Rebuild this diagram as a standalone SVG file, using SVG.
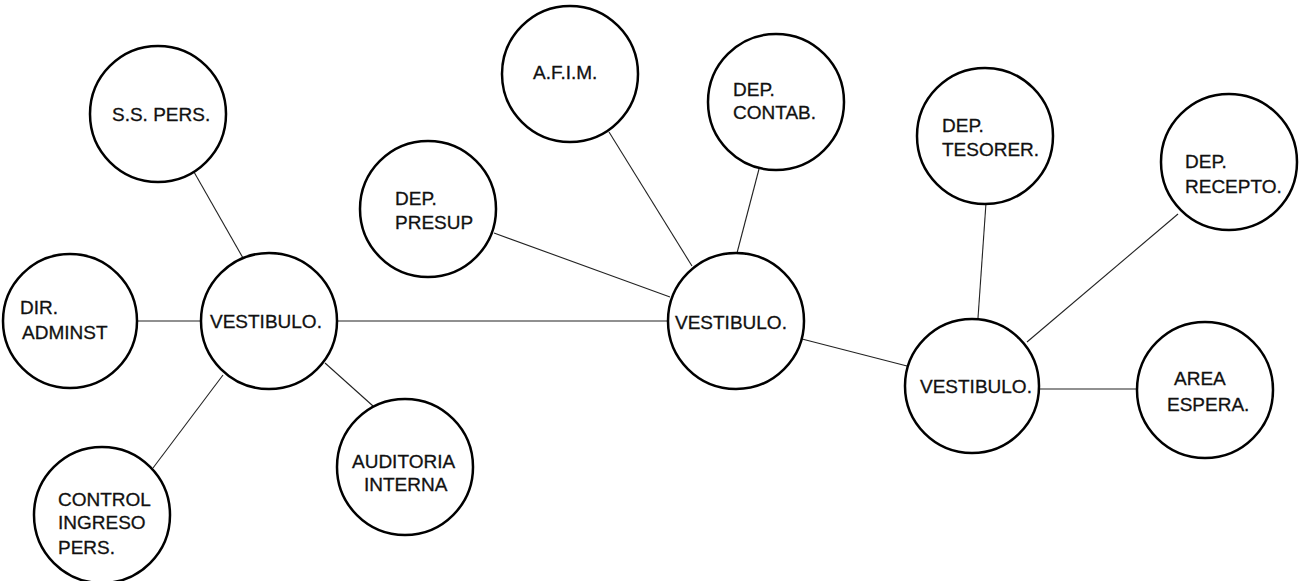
<svg xmlns="http://www.w3.org/2000/svg" width="1306" height="581" viewBox="0 0 1306 581">
<style>
.n{fill:#fff;stroke:#000;stroke-width:2.5}
.t{font-family:"Liberation Sans",Arial,sans-serif;font-size:19px;fill:#111;stroke:#111;stroke-width:0.3}
.c line{stroke:#222;stroke-width:1.1}
</style>
<rect width="1306" height="581" fill="#fff"/>
<g class="c" id="connectors">
<line x1="194" y1="172" x2="243" y2="258"/>
<line x1="138" y1="321" x2="201" y2="321"/>
<line x1="337" y1="321" x2="668" y2="321"/>
<line x1="223" y1="375" x2="153" y2="468"/>
<line x1="325" y1="363" x2="373" y2="406"/>
<line x1="494" y1="233" x2="670" y2="297"/>
<line x1="609" y1="132" x2="692" y2="266"/>
<line x1="759" y1="169" x2="737" y2="253"/>
<line x1="802" y1="339" x2="907" y2="366"/>
<line x1="986" y1="203" x2="978" y2="318"/>
<line x1="1178" y1="214" x2="1027" y2="342"/>
<line x1="1039" y1="389" x2="1138" y2="389"/>
</g>
<g id="ss"><circle class="n" cx="158" cy="114" r="68"/><text class="t" x="112" y="121">S.S. PERS.</text></g>
<g id="dir"><circle class="n" cx="70" cy="321" r="67"/><text class="t" x="20" y="314">DIR.</text><text class="t" x="22" y="339">ADMINST</text></g>
<g id="v1"><circle class="n" cx="269" cy="321" r="68"/><text class="t" x="210" y="328">VESTIBULO.</text></g>
<g id="ctrl"><circle class="n" cx="102" cy="515" r="68"/><text class="t" x="58" y="506">CONTROL</text><text class="t" x="58" y="529">INGRESO</text><text class="t" x="58" y="554">PERS.</text></g>
<g id="aud"><circle class="n" cx="405" cy="467" r="68"/><text class="t" x="352" y="468">AUDITORIA</text><text class="t" x="364" y="491">INTERNA</text></g>
<g id="presup"><circle class="n" cx="428" cy="209" r="68"/><text class="t" x="395" y="205">DEP.</text><text class="t" x="395" y="229">PRESUP</text></g>
<g id="afim"><circle class="n" cx="570" cy="74" r="68"/><text class="t" x="533" y="79">A.F.I.M.</text></g>
<g id="contab"><circle class="n" cx="776" cy="102" r="68"/><text class="t" x="733" y="96">DEP.</text><text class="t" x="733" y="119">CONTAB.</text></g>
<g id="v2"><circle class="n" cx="736" cy="321" r="68"/><text class="t" x="675" y="329">VESTIBULO.</text></g>
<g id="v3"><circle class="n" cx="972" cy="386" r="67"/><text class="t" x="920" y="393">VESTIBULO.</text></g>
<g id="tes"><circle class="n" cx="985" cy="136" r="68"/><text class="t" x="942" y="132">DEP.</text><text class="t" x="942" y="156">TESORER.</text></g>
<g id="rec"><circle class="n" cx="1229" cy="162" r="68"/><text class="t" x="1185" y="168">DEP.</text><text class="t" x="1185" y="193">RECEPTO.</text></g>
<g id="area"><circle class="n" cx="1205" cy="390" r="68"/><text class="t" x="1174" y="385">AREA</text><text class="t" x="1167" y="411">ESPERA.</text></g>
</svg>
